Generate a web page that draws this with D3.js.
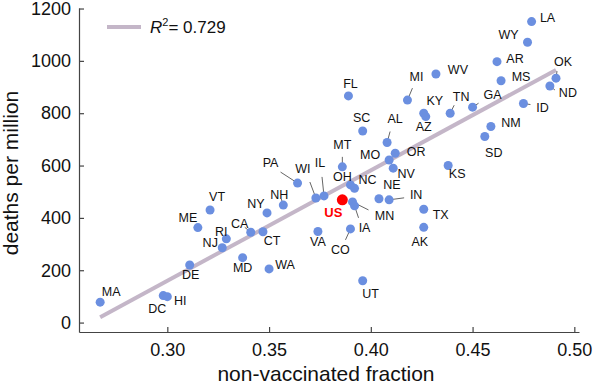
<!DOCTYPE html>
<html lang="en">
<head>
<meta charset="UTF-8">
<title>Deaths per million vs non-vaccinated fraction</title>
<script src="https://cdn.jsdelivr.net/npm/d3@7"></script>
<style>
    body { margin: 0; background: #fff; }
    svg { display: block; font-family: "Liberation Sans", Arial, Helvetica, sans-serif; }
    .axis path, .axis line { stroke: #444; stroke-width: 1.2; }
    .axis text { font-size: 18px; fill: #111; }
    .lab { font-size: 12.5px; fill: #111; }
</style>
</head>
<body>
<svg width="597" height="386"></svg>
<script>
    // state data
    const states = ["LA","WY","AR","OK","MS","ND","WV","MI","FL","KY","AZ","TN","GA","ID","NM","SD",
        "SC","AL","OR","MO","NV","KS","MT","WI","IL","PA","OH","NC","MN","IA","CO","VA","NE","IN",
        "TX","AK","UT","WA","MD","CT","CA","NH","NY","VT","ME","RI","NJ","DE","DC","HI","MA"];
    const nonVax = [0.479,0.477,0.462,0.491,0.464,0.488,0.432,0.418,0.389,0.426,0.427,0.439,0.450,0.475,0.459,0.456,
        0.396,0.408,0.412,0.409,0.411,0.438,0.386,0.373,0.377,0.364,0.390,0.392,0.391,0.392,0.390,0.374,0.404,0.409,
        0.426,0.426,0.396,0.350,0.337,0.347,0.341,0.357,0.349,0.321,0.315,0.329,0.327,0.311,0.298,0.300,0.267];
    const deaths = [1150,1071,997,934,924,904,950,850,866,800,787,800,823,837,749,711,
        732,688,647,621,590,600,595,476,484,533,526,513,461,446,358,348,473,469,
        433,364,160,205,248,347,345,449,419,430,363,320,286,220,103,99,78];

    const usLabel = "US";
    const usNonVax = 0.386;
    const usDeaths = 469;

    const r2Text = "0.729";
    const xTicks = [0.30, 0.35, 0.40, 0.45, 0.50];
    const yTicks = [0, 200, 400, 600, 800, 1000, 1200];

    // label placement (pixels relative to the dot), and optional leader line end
    const labelPos = {
        LA:[16,-4], WY:[-19,-8], AR:[18,-3], OK:[7,-17,1,-7], MS:[20,-4], ND:[18,7,5,4], WV:[22,-4],
        MI:[9,-24,5,-12], FL:[2,-12], KY:[11,-13], AZ:[-2,10], TN:[11,-17,4,-8], GA:[20,-13,6,-4],
        ID:[19,4,7,1], NM:[20,-4], SD:[9,16], SC:[-1,-14], AL:[8,-24,3,-11], OR:[21,-2], MO:[-19,-6],
        NV:[13,5], KS:[9,8], MT:[0,-22,0,-10], WI:[-13,-30,-6,-16], IL:[-4,-33,-2,-19],
        PA:[-27,-21,-17,-11], OH:[-8,-8], NC:[13,-9], MN:[32,14,16,8], IA:[10,22,4,12],
        CO:[-10,21,-5,11], VA:[0,10], NE:[13,-14], IN:[27,-5,15,-2], TX:[17,5], AK:[-4,14],
        UT:[8,13], WA:[16,-4], MD:[0,10], CT:[9,9], CA:[-11,-9,-6,-5], NH:[-4,-11,-2,-6],
        NY:[-11,-9], VT:[7,-14], ME:[-10,-10], RI:[-5,-7], NJ:[-12,-5], DE:[1,9], DC:[-6,13],
        HI:[13,4], MA:[11,-11]
    };
    const usPos = [-9, 12];

    const svg = d3.select("svg");
    const margin = {top: 8, right: 18, bottom: 54, left: 79};
    const width = 597 - margin.left - margin.right;
    const height = 386 - margin.top - margin.bottom;

    const x = d3.scaleLinear().domain([0.2566, 0.5023]).range([0, width]);
    const y = d3.scaleLinear().domain([-36, 1202]).range([height, 0]);

    const g = svg.append("g").attr("transform", `translate(${margin.left},${margin.top})`);

    // axes
    g.append("g")
        .attr("class", "axis")
        .attr("transform", `translate(0,${height})`)
        .call(d3.axisBottom(x).tickValues(xTicks).tickFormat(d3.format(".2f"))
            .tickSizeInner(-5).tickSizeOuter(0).tickPadding(11));

    g.append("g")
        .attr("class", "axis")
        .call(d3.axisLeft(y).tickValues(yTicks).tickFormat(d3.format("d"))
            .tickSizeInner(-5).tickSizeOuter(0).tickPadding(8));

    g.selectAll(".axis .domain").attr("fill", "none");

    // axis titles
    svg.append("text")
        .attr("x", 326).attr("y", 381)
        .attr("text-anchor", "middle")
        .style("font-size", "21px").style("fill", "#111")
        .text("non-vaccinated fraction");

    svg.append("text")
        .attr("transform", "translate(18,173) rotate(-90)")
        .attr("text-anchor", "middle")
        .style("font-size", "21px").style("fill", "#111")
        .text("deaths per million");

    // regression line (least squares over the states)
    const n = states.length;
    const mx = d3.mean(nonVax), my = d3.mean(deaths);
    let sxy = 0, sxx = 0;
    for (let i = 0; i < n; i++) {
        sxy += (nonVax[i] - mx) * (deaths[i] - my);
        sxx += (nonVax[i] - mx) * (nonVax[i] - mx);
    }
    const slope = sxy / sxx;
    const icpt = my - slope * mx;
    const [x0, x1] = d3.extent(nonVax);

    g.append("line")
        .attr("x1", x(x0)).attr("y1", y(icpt + slope * x0))
        .attr("x2", x(x1)).attr("y2", y(icpt + slope * x1))
        .attr("stroke", "#c4b6c8")
        .attr("stroke-width", 4);

    // legend
    svg.append("line")
        .attr("x1", 107).attr("x2", 141).attr("y1", 27).attr("y2", 27)
        .attr("stroke", "#c4b6c8").attr("stroke-width", 4);
    const leg = svg.append("text").attr("x", 150).attr("y", 33)
        .style("font-size", "17px").style("fill", "#111");
    leg.append("tspan").style("font-style", "italic").text("R");
    leg.append("tspan").attr("dy", -7).style("font-size", "11px").text("2");
    leg.append("tspan").attr("dy", 7).text("= " + r2Text);

    const pts = states.map((s, i) => ({name: s, x: nonVax[i], y: deaths[i]}));

    // leader lines
    g.append("g")
        .selectAll("line")
        .data(pts.filter(d => labelPos[d.name].length > 2))
        .enter()
        .append("line")
        .attr("x1", d => x(d.x)).attr("y1", d => y(d.y))
        .attr("x2", d => x(d.x) + labelPos[d.name][2])
        .attr("y2", d => y(d.y) + labelPos[d.name][3])
        .attr("stroke", "#666").attr("stroke-width", 1);

    // dots
    g.append("g")
        .selectAll("circle")
        .data(pts)
        .enter()
        .append("circle")
        .attr("cx", d => x(d.x))
        .attr("cy", d => y(d.y))
        .attr("r", 4.5)
        .attr("fill", "#6b8fe0");

    g.append("circle")
        .attr("cx", x(usNonVax)).attr("cy", y(usDeaths))
        .attr("r", 5.5).attr("fill", "#ff0000");

    // labels
    g.append("g")
        .selectAll("text")
        .data(pts)
        .enter()
        .append("text")
        .attr("class", "lab")
        .attr("x", d => x(d.x) + labelPos[d.name][0])
        .attr("y", d => y(d.y) + labelPos[d.name][1])
        .attr("text-anchor", "middle")
        .attr("dy", "0.36em")
        .text(d => d.name);

    g.append("text")
        .attr("x", x(usNonVax) + usPos[0])
        .attr("y", y(usDeaths) + usPos[1])
        .attr("text-anchor", "middle")
        .attr("dy", "0.36em")
        .style("font-size", "13px").style("font-weight", "bold").style("fill", "#ff0000")
        .text(usLabel);
</script>
</body>
</html>
